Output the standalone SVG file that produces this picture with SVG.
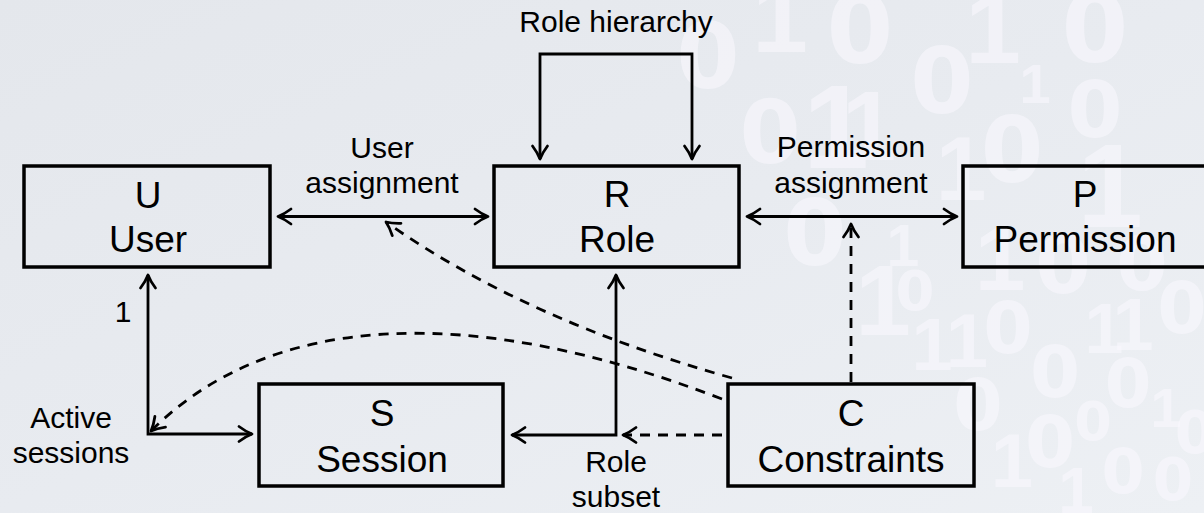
<svg xmlns="http://www.w3.org/2000/svg" width="1204" height="513" viewBox="0 0 1204 513">
  <defs>
    <linearGradient id="bg" x1="0" y1="0" x2="1" y2="1">
      <stop offset="0" stop-color="#e4e7ec"/>
      <stop offset="0.5" stop-color="#e8ebf0"/>
      <stop offset="1" stop-color="#edf0f4"/>
    </linearGradient>
    <!-- open curved arrow tip, tip point at the path end -->
    <marker id="tip" viewBox="-16 -10 18 20" refX="0" refY="0" markerWidth="18" markerHeight="20" markerUnits="userSpaceOnUse" orient="auto-start-reverse" overflow="visible">
      <path d="M -13 -7.5 C -9 -4.5 -4 -1.5 0 0 C -4 1.5 -9 4.5 -13 7.5" fill="none" stroke="#000" stroke-width="2.8" stroke-linecap="round" stroke-linejoin="round" stroke-dasharray="none"/>
    </marker>
    <style>
      .box { fill: none; stroke: #000; stroke-width: 3.5; }
      .node { font-family: "Liberation Sans", Arial, sans-serif; font-size: 37px; fill: #000; text-anchor: middle; }
      .lbl { font-family: "Liberation Sans", Arial, sans-serif; font-size: 30px; fill: #000; text-anchor: middle; }
      .link { fill: none; stroke: #000; stroke-width: 2.8; stroke-linejoin: miter; }
      .dash { stroke-dasharray: 10 8; }
      .d0 { font-family: "DejaVu Sans", sans-serif; font-weight: 700; fill: #fbf9ff; opacity: 0.55; text-anchor: middle; }
      .d1 { font-family: "Liberation Sans", Arial, sans-serif; font-weight: 700; fill: #fbf9ff; opacity: 0.55; text-anchor: middle; }
    </style>
  </defs>

  <!-- backdrop -->
  <rect x="0" y="0" width="1204" height="513" fill="url(#bg)"/>

  <!-- faint binary digit texture on the right -->
  <g id="texture">
    <text class="d0" x="708" y="88" font-size="91">0</text>
    <text class="d1" x="780" y="52" font-size="100">1</text>
    <text class="d0" x="860" y="63" font-size="96">0</text>
    <text class="d1" x="993" y="63" font-size="100">1</text>
    <text class="d0" x="1095" y="62" font-size="96">0</text>
    <text class="d0" x="942" y="113" font-size="91">0</text>
    <text class="d1" x="1035" y="103" font-size="56">1</text>
    <text class="d0" x="1095" y="137" font-size="79">0</text>
    <text class="d0" x="770" y="163" font-size="88">0</text>
    <text class="d1" x="836" y="168" font-size="118">1</text>
    <text class="d1" x="869" y="160" font-size="98">1</text>
    <text class="d0" x="1012" y="182" font-size="90">0</text>
    <text class="d1" x="961" y="200" font-size="91">1</text>
    <text class="d1" x="1110" y="227" font-size="118">1</text>
    <text class="d0" x="815" y="265" font-size="91">0</text>
    <text class="d1" x="903" y="266" font-size="59">1</text>
    <text class="d0" x="915" y="310" font-size="56">0</text>
    <text class="d1" x="883" y="335" font-size="100">1</text>
    <text class="d1" x="1000" y="290" font-size="91">1</text>
    <text class="d0" x="1063" y="293" font-size="80">0</text>
    <text class="d0" x="1142" y="290" font-size="74">0</text>
    <text class="d1" x="932" y="370" font-size="74">1</text>
    <text class="d1" x="967" y="367" font-size="76">1</text>
    <text class="d0" x="1008" y="353" font-size="71">0</text>
    <text class="d1" x="1104" y="353" font-size="70">1</text>
    <text class="d1" x="1133" y="350" font-size="74">1</text>
    <text class="d0" x="1182" y="333" font-size="71">0</text>
    <text class="d0" x="1055" y="397" font-size="72">0</text>
    <text class="d0" x="1128" y="407" font-size="67">0</text>
    <text class="d0" x="978" y="430" font-size="71">0</text>
    <text class="d1" x="1012" y="487" font-size="76">1</text>
    <text class="d0" x="1093" y="440" font-size="54">0</text>
    <text class="d1" x="1166" y="427" font-size="56">1</text>
    <text class="d0" x="1195" y="453" font-size="58">0</text>
    <text class="d0" x="1050" y="467" font-size="72">0</text>
    <text class="d1" x="1076" y="513" font-size="64">1</text>
    <text class="d0" x="1123" y="493" font-size="62">0</text>
    <text class="d0" x="1173" y="500" font-size="58">0</text>
  </g>

  <!-- connectors -->
  <g id="connectors">
    <!-- role hierarchy loop on top of R -->
    <path class="link" d="M 540 159 V 54 H 692 V 159" marker-start="url(#tip)" marker-end="url(#tip)"/>
    <!-- user assignment U <-> R -->
    <path class="link" d="M 278 216.5 H 488" marker-start="url(#tip)" marker-end="url(#tip)"/>
    <!-- permission assignment R <-> P -->
    <path class="link" d="M 747 216.5 H 957" marker-start="url(#tip)" marker-end="url(#tip)"/>
    <!-- active sessions: S <- corner -> U -->
    <path class="link" d="M 252 434 H 148 V 275" marker-start="url(#tip)" marker-end="url(#tip)"/>
    <!-- role subset: S <- corner -> R -->
    <path class="link" d="M 512 435 H 616 V 275" marker-start="url(#tip)" marker-end="url(#tip)"/>
    <!-- constraints -->
    <path class="link dash" d="M 722 435 H 623" marker-end="url(#tip)"/>
    <path class="link dash" d="M 851 382 V 224" marker-end="url(#tip)"/>
    <path class="link dash" d="M 732 378 Q 525 320 386 222" marker-end="url(#tip)"/>
    <path class="link dash" d="M 722 399 C 470 302 270 312 151 431" marker-end="url(#tip)"/>
  </g>

  <!-- connector labels -->
  <g id="labels">
    <text class="lbl" x="616" y="32">Role hierarchy</text>
    <text class="lbl" x="382" y="158">User</text>
    <text class="lbl" x="382" y="193">assignment</text>
    <text class="lbl" x="851" y="157">Permission</text>
    <text class="lbl" x="851" y="193">assignment</text>
    <text class="lbl" x="123" y="322">1</text>
    <text class="lbl" x="71" y="428">Active</text>
    <text class="lbl" x="71" y="463">sessions</text>
    <text class="lbl" x="616" y="472">Role</text>
    <text class="lbl" x="616" y="507">subset</text>
  </g>

  <g id="node-user">
    <rect class="box" x="24" y="166" width="246" height="101"/>
    <text class="node" x="148" y="208">U</text>
    <text class="node" x="148" y="252">User</text>
  </g>
  <g id="node-role">
    <rect class="box" x="494" y="166" width="245" height="101"/>
    <text class="node" x="617" y="207">R</text>
    <text class="node" x="617" y="252">Role</text>
  </g>
  <g id="node-permission">
    <rect class="box" x="963" y="166" width="260" height="101"/>
    <text class="node" x="1085" y="207">P</text>
    <text class="node" x="1085" y="252">Permission</text>
  </g>
  <g id="node-session">
    <rect class="box" x="259" y="384" width="244" height="102"/>
    <text class="node" x="382" y="426">S</text>
    <text class="node" x="382" y="472">Session</text>
  </g>
  <g id="node-constraints">
    <rect class="box" x="728" y="384" width="246" height="102"/>
    <text class="node" x="851" y="426">C</text>
    <text class="node" x="851" y="472">Constraints</text>
  </g>
</svg>
